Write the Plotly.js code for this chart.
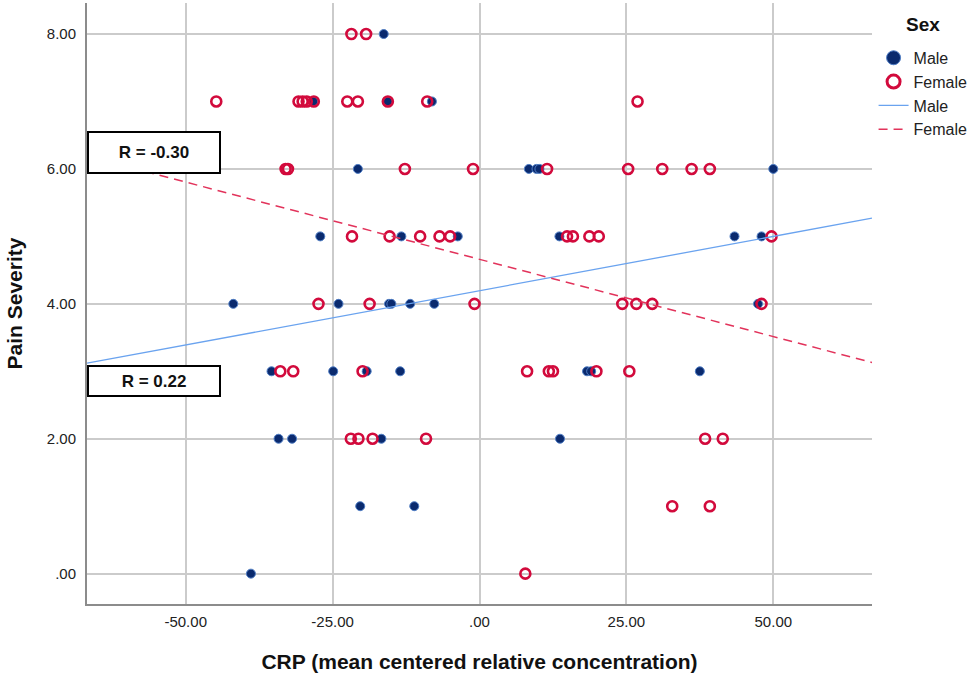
<!DOCTYPE html>
<html>
<head>
<meta charset="utf-8">
<script src="https://cdn.plot.ly/plotly-3.0.1.min.js"></script>
<style>html,body{margin:0;padding:0;background:#fff;}#chart{width:977px;height:681px;}</style>
</head>
<body>
<div id="chart"></div>
<script>
// ---- data ----
const maleX = [-16.3, -28.3, -15.6, -8.1, -20.7, 8.4, 9.7, 10.2, 50.0,
  -27.1, -13.3, -3.7, 13.6, 43.4, 48.0,
  -41.9, -24.0, -15.4, -15.0, -11.8, -7.7, 47.4,
  -35.4, -24.9, -19.2, -13.5, 18.3, 19.0, 37.5,
  -34.2, -31.9, -16.7, 13.7,
  -20.3, -11.1,
  -38.9];
const maleY = [8, 7, 7, 7, 6, 6, 6, 6, 6,
  5, 5, 5, 5, 5, 5,
  4, 4, 4, 4, 4, 4, 4,
  3, 3, 3, 3, 3, 3, 3,
  2, 2, 2, 2,
  1, 1,
  0];
const femaleX = [-21.8, -19.3,
  -44.8, -30.8, -30.1, -29.4, -28.2, -22.5, -20.7, -15.6, -8.9, 26.9,
  -33.0, -32.6, -12.7, -1.1, 11.5, 25.3, 31.1, 36.1, 39.2,
  -21.7, -15.3, -10.1, -6.8, -5.0, 14.9, 15.9, 18.7, 20.3, 49.7,
  -27.4, -18.7, -0.85, 24.3, 26.7, 29.4, 48.0,
  -33.9, -31.7, -19.9, 8.1, 11.8, 12.5, 19.9, 25.5,
  -21.9, -20.6, -18.2, -9.1, 38.4, 41.4,
  32.8, 39.2,
  7.8];
const femaleY = [8, 8,
  7, 7, 7, 7, 7, 7, 7, 7, 7, 7,
  6, 6, 6, 6, 6, 6, 6, 6, 6,
  5, 5, 5, 5, 5, 5, 5, 5, 5, 5,
  4, 4, 4, 4, 4, 4, 4,
  3, 3, 3, 3, 3, 3, 3, 3,
  2, 2, 2, 2, 2, 2,
  1, 1,
  0];
// fitted regression lines (intercept, slope)
const maleFit = [4.195, 0.0161];
const femaleFit = [4.66, -0.0229];
const fitRange = [-66.8, 66.8];
const xTickVals = [-50, -25, 0, 25, 50];
const xTickText = ['-50.00', '-25.00', '.00', '25.00', '50.00'];
const yTickVals = [0, 2, 4, 6, 8];
const yTickText = ['.00', '2.00', '4.00', '6.00', '8.00'];
const rLabels = ['R = -0.30', 'R = 0.22'];
const legendTitle = 'Sex';
const groups = ['Male', 'Female'];

const fitY = (f) => fitRange.map(x => f[0] + f[1] * x);
const font = 'Liberation Sans, Arial, sans-serif';
const maleMarker = {symbol: 'circle', color: '#0a2a6e', line: {color: '#4f7dc4', width: 1}};
const femaleMarker = {symbol: 'circle-open', color: '#d20a3c'};

const traces = [
  {x: maleX, y: maleY, type: 'scatter', mode: 'markers', name: groups[0], showlegend: false,
   marker: Object.assign({size: 9}, maleMarker)},
  {x: femaleX, y: femaleY, type: 'scatter', mode: 'markers', name: groups[1], showlegend: false,
   marker: Object.assign({size: 10, line: {width: 2.6}}, femaleMarker)},
  {x: fitRange, y: fitY(maleFit), type: 'scatter', mode: 'lines', name: groups[0], showlegend: false,
   line: {color: '#6aa3ef', width: 1.3}},
  {x: fitRange, y: fitY(femaleFit), type: 'scatter', mode: 'lines', name: groups[1], showlegend: false,
   line: {color: '#e2335b', width: 1.5, dash: '9px,6px'}},
  // legend entries (larger symbols, like the reference legend)
  {x: [null], y: [null], type: 'scatter', mode: 'markers', name: groups[0],
   marker: Object.assign({size: 14}, maleMarker)},
  {x: [null], y: [null], type: 'scatter', mode: 'markers', name: groups[1],
   marker: Object.assign({size: 13, line: {width: 3}}, femaleMarker)},
  {x: [null], y: [null], type: 'scatter', mode: 'lines', name: groups[0],
   line: {color: '#6aa3ef', width: 1.3}},
  {x: [null], y: [null], type: 'scatter', mode: 'lines', name: groups[1],
   line: {color: '#e2335b', width: 1.5, dash: '9px,6px'}}
];

const layout = {
  width: 977, height: 681,
  margin: {l: 87, r: 105, t: 3, b: 77},
  paper_bgcolor: '#fff', plot_bgcolor: '#fff',
  font: {family: font, color: '#222'},
  showlegend: true,
  legend: {x: 1.002, xanchor: 'left', y: 0.937, yanchor: 'top',
    font: {size: 16, family: font, color: '#222'},
    tracegroupgap: 0, bgcolor: 'rgba(0,0,0,0)'},
  xaxis: {range: [-66.8, 66.8], tickvals: xTickVals, ticktext: xTickText,
    showgrid: true, gridcolor: '#cbcbcb', gridwidth: 1.6, zeroline: false,
    showline: true, linecolor: '#8c8c8c', linewidth: 2, ticks: '',
    ticklabelstandoff: 3,
    tickfont: {size: 15, family: font, color: '#222'},
    title: {text: 'CRP (mean centered relative concentration)', standoff: 25,
      font: {size: 21, family: font, color: '#111', weight: 'bold'}}},
  yaxis: {range: [-0.45, 8.46], tickvals: yTickVals, ticktext: yTickText,
    showgrid: true, gridcolor: '#cbcbcb', gridwidth: 1.6, zeroline: false,
    showline: true, linecolor: '#8c8c8c', linewidth: 2, ticks: '',
    ticklabelstandoff: 6,
    tickfont: {size: 15, family: font, color: '#222'},
    title: {text: 'Pain Severity', standoff: 18,
      font: {size: 21, family: font, color: '#111', weight: 'bold'}}},
  annotations: [
    {xref: 'paper', yref: 'paper', x: 0, y: 0.752, xanchor: 'left', yanchor: 'middle',
     text: rLabels[0], showarrow: false, width: 128, height: 37, align: 'center',
     bgcolor: '#fff', bordercolor: '#000', borderwidth: 2, borderpad: 1,
     font: {size: 17, family: font, color: '#111', weight: 'bold'}},
    {xref: 'paper', yref: 'paper', x: 0, y: 0.371, xanchor: 'left', yanchor: 'middle',
     text: rLabels[1], showarrow: false, width: 128, height: 26, align: 'center',
     bgcolor: '#fff', bordercolor: '#000', borderwidth: 2, borderpad: 1,
     font: {size: 17, family: font, color: '#111', weight: 'bold'}},
    {xref: 'paper', yref: 'paper', x: 1.0, xshift: 51, y: 1.0, yshift: -21, xanchor: 'center', yanchor: 'middle',
     text: legendTitle, showarrow: false,
     font: {size: 19, family: font, color: '#111', weight: 'bold'}}
  ]
};

Plotly.newPlot('chart', traces, layout, {displayModeBar: false, responsive: false});
</script>
</body>
</html>
